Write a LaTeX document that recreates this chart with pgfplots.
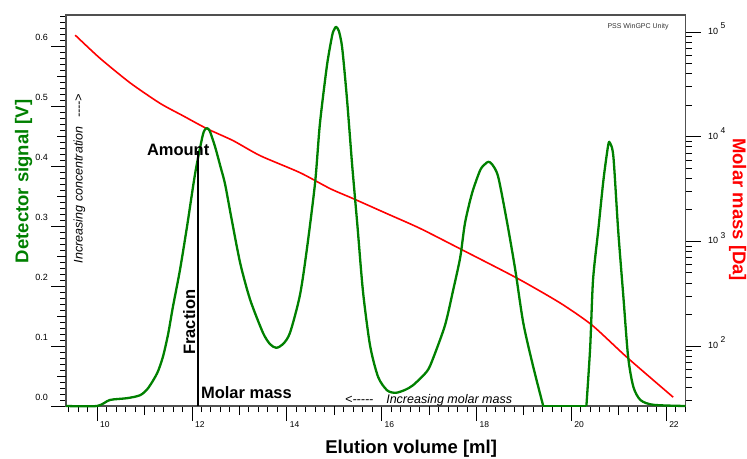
\documentclass[border=0pt]{standalone}
\usepackage{fontspec}
\setmainfont{Liberation Sans}
\usepackage{pgfplots}
\pgfplotsset{compat=1.18}

\definecolor{sigGreen}{RGB}{0,128,0}
\definecolor{massRed}{RGB}{255,0,0}
\definecolor{frameGray}{RGB}{80,80,80}

\newcommand\tickfont{\fontsize{9}{10}\selectfont}
\newcommand\xtickfont{\fontsize{8.5}{10}\selectfont}
\newcommand\labfont{\fontsize{18.5}{20}\selectfont\bfseries}
\newcommand\notefont{\fontsize{16.5}{18}\selectfont\bfseries}
\newcommand\hintfont{\fontsize{12.5}{14}\selectfont\itshape}
\newcommand\logl[1]{10\hspace{2.5pt}\raisebox{5.5pt}{\fontsize{8.5}{9}\selectfont #1}}

\pgfplotsset{
  gpcframe/.style={
    at={(0,0)}, anchor=south west,
    scale only axis, width=619.5pt, height=391pt,
    xmin=9.346, xmax=22.41,
    tick align=outside,
    major tick length=15pt, minor tick length=6pt,
    every tick/.style={black, line width=0.7pt},
    axis line style={frameGray, line width=1.6pt},
    /pgf/number format/assume math mode=true,
  },
}

\begin{document}
\begin{tikzpicture}[x=1pt,y=1pt]
\path[use as bounding box] (-66,-52) rectangle (681,406);

% molar mass calibration (log scale, right axis)
\begin{axis}[gpcframe,
  ymode=log, log basis y=10,
  ymin=26.7, ymax=145300,
  axis x line=none, axis y line*=right,
  ytick pos=right,
  ytick={100,1000,10000,100000},
  yticklabels={\logl{2},\logl{3},\logl{4},\logl{5}},
  minor ytick={30,40,50,60,70,80,90,200,300,400,500,600,700,800,900,
    2000,3000,4000,5000,6000,7000,8000,9000,
    20000,30000,40000,50000,60000,70000,80000,90000},
  yticklabel style={font=\tickfont, anchor=base west, inner sep=0pt,
    xshift=7.5pt, yshift=-2.5pt},
]
\addplot[massRed, line width=1.6pt, smooth, tension=0.4] coordinates {
  (9.54,93300) (10.06,56200) (10.70,32600) (11.33,20800) (11.81,15850)
  (12.32,11900) (12.87,9160) (13.44,6580) (14.28,4530) (14.92,3180)
  (15.40,2560) (16.10,1850) (16.81,1330) (17.72,820) (18.86,444)
  (19.77,257) (20.44,158) (21.18,77.6) (22.15,32.4)
};
\end{axis}

% detector signal (left axis) with frame and annotations
\begin{axis}[gpcframe,
  ymin=0, ymax=0.6517,
  clip=false,
  xtick pos=bottom, ytick pos=left,
  xtick={10,12,14,16,18,20,22},
  ytick={0,0.1,0.2,0.3,0.4,0.5,0.6},
  minor xtick={9.4,9.6,9.8,10.2,10.4,10.6,10.8,11.2,11.4,11.6,11.8,
    12.2,12.4,12.6,12.8,13.2,13.4,13.6,13.8,14.2,14.4,14.6,14.8,
    15.2,15.4,15.6,15.8,16.2,16.4,16.6,16.8,17.2,17.4,17.6,17.8,
    18.2,18.4,18.6,18.8,19.2,19.4,19.6,19.8,20.2,20.4,20.6,20.8,
    21.2,21.4,21.6,21.8,22.2,22.4},
  minor ytick={0.01,0.02,0.03,0.04,0.06,0.07,0.08,0.09,
    0.11,0.12,0.13,0.14,0.16,0.17,0.18,0.19,
    0.21,0.22,0.23,0.24,0.26,0.27,0.28,0.29,
    0.31,0.32,0.33,0.34,0.36,0.37,0.38,0.39,
    0.41,0.42,0.43,0.44,0.46,0.47,0.48,0.49,
    0.51,0.52,0.53,0.54,0.56,0.57,0.58,0.59,
    0.61,0.62,0.63,0.64,0.65},
  extra x ticks={11,13,15,17,19,21},
  extra y ticks={0.05,0.15,0.25,0.35,0.45,0.55},
  extra tick style={major tick length=9pt, xticklabel={}, yticklabel={}},
  xticklabel style={font=\xtickfont, anchor=north west, inner sep=0pt,
    xshift=3pt, yshift=0pt},
  yticklabel style={font=\tickfont, anchor=east, inner sep=0pt,
    xshift=-3pt, yshift=8.5pt,
    /pgf/number format/.cd, fixed, fixed zerofill, precision=1},
]
% refractive index trace: leading baseline, three resolved peaks, gap, last peak
\addplot[sigGreen, line width=2.3pt, line join=round, smooth, tension=0.45] coordinates {
  (9.346,0) (10.00,0) (10.27,0.010) (10.63,0.013) (10.91,0.018)
  (11.08,0.030) (11.27,0.055) (11.39,0.082) (11.50,0.120) (11.60,0.165)
  (11.75,0.227) (11.90,0.300) (12.07,0.388) (12.22,0.448) (12.27,0.460)
  (12.32,0.463) (12.38,0.458) (12.49,0.432) (12.60,0.400) (12.70,0.370)
  (12.83,0.315) (13.02,0.238) (13.23,0.177) (13.50,0.122) (13.65,0.103)
  (13.78,0.097) (13.92,0.103) (14.07,0.122) (14.28,0.185) (14.43,0.264)
  (14.60,0.373) (14.70,0.470) (14.85,0.568) (14.96,0.618) (15.00,0.627)
  (15.04,0.632) (15.10,0.625) (15.17,0.597) (15.27,0.513) (15.38,0.402)
  (15.49,0.302) (15.61,0.190) (15.76,0.100) (15.93,0.048) (16.12,0.026)
  (16.30,0.022) (16.50,0.027) (16.67,0.035) (16.96,0.058) (17.09,0.080)
  (17.34,0.135) (17.51,0.193) (17.66,0.248) (17.76,0.305) (17.91,0.355)
  (18.08,0.393) (18.18,0.403) (18.25,0.407) (18.33,0.403) (18.46,0.382)
  (18.65,0.305) (18.82,0.227) (18.99,0.138) (19.20,0.065) (19.41,0)
};
\addplot[sigGreen, line width=2.3pt] coordinates {(19.41,0) (20.32,0)};
\addplot[sigGreen, line width=2.3pt, line join=round, smooth, tension=0.45] coordinates {
  (20.32,0) (20.40,0.098) (20.46,0.210) (20.57,0.293) (20.68,0.377)
  (20.78,0.435) (20.82,0.438) (20.89,0.415) (20.99,0.293) (21.10,0.182)
  (21.20,0.082) (21.31,0.032) (21.46,0.010) (21.73,0.002) (22.41,0)
};
% fraction marker
\addplot[black, line width=1.6pt] coordinates {(12.13,0) (12.13,0.425)};

\node[anchor=base west, inner sep=0pt, font=\notefont] at (axis cs:11.05,0.418) {Amount};
\node[anchor=base west, inner sep=0pt, font=\notefont, rotate=90] at (axis cs:12.067,0.085) {Fraction};
\node[anchor=base west, inner sep=0pt, font=\notefont] at (axis cs:12.19,0.0117) {Molar mass};
\node[anchor=base west, inner sep=0pt, font=\hintfont, rotate=90] at (axis cs:9.694,0.238)
  {Increasing concentration\hspace{9pt}-{}-{}-{}->};
\node[anchor=base west, inner sep=0pt, font=\hintfont] at (axis cs:15.23,0.005)
  {<-{}-{}-{}-{}-\hspace{13pt}Increasing molar mass};
\node[inner sep=0pt, font=\fontsize{7}{8}\selectfont, text=black!80] at (axis cs:21.41,0.632) {PSS WinGPC Unity};

% axis titles
\node[anchor=base west, inner sep=0pt, font=\labfont, text=sigGreen, rotate=90] at (axis cs:8.555,0.238) {Detector signal [V]};
\node[anchor=base west, inner sep=0pt, font=\labfont, text=massRed, rotate=-90] at (axis cs:23.41,0.4467) {Molar mass [Da]};
\node[anchor=base west, inner sep=0pt, font=\labfont] at (axis cs:14.81,-0.0792) {Elution volume [ml]};
\end{axis}
\end{tikzpicture}
\end{document}
